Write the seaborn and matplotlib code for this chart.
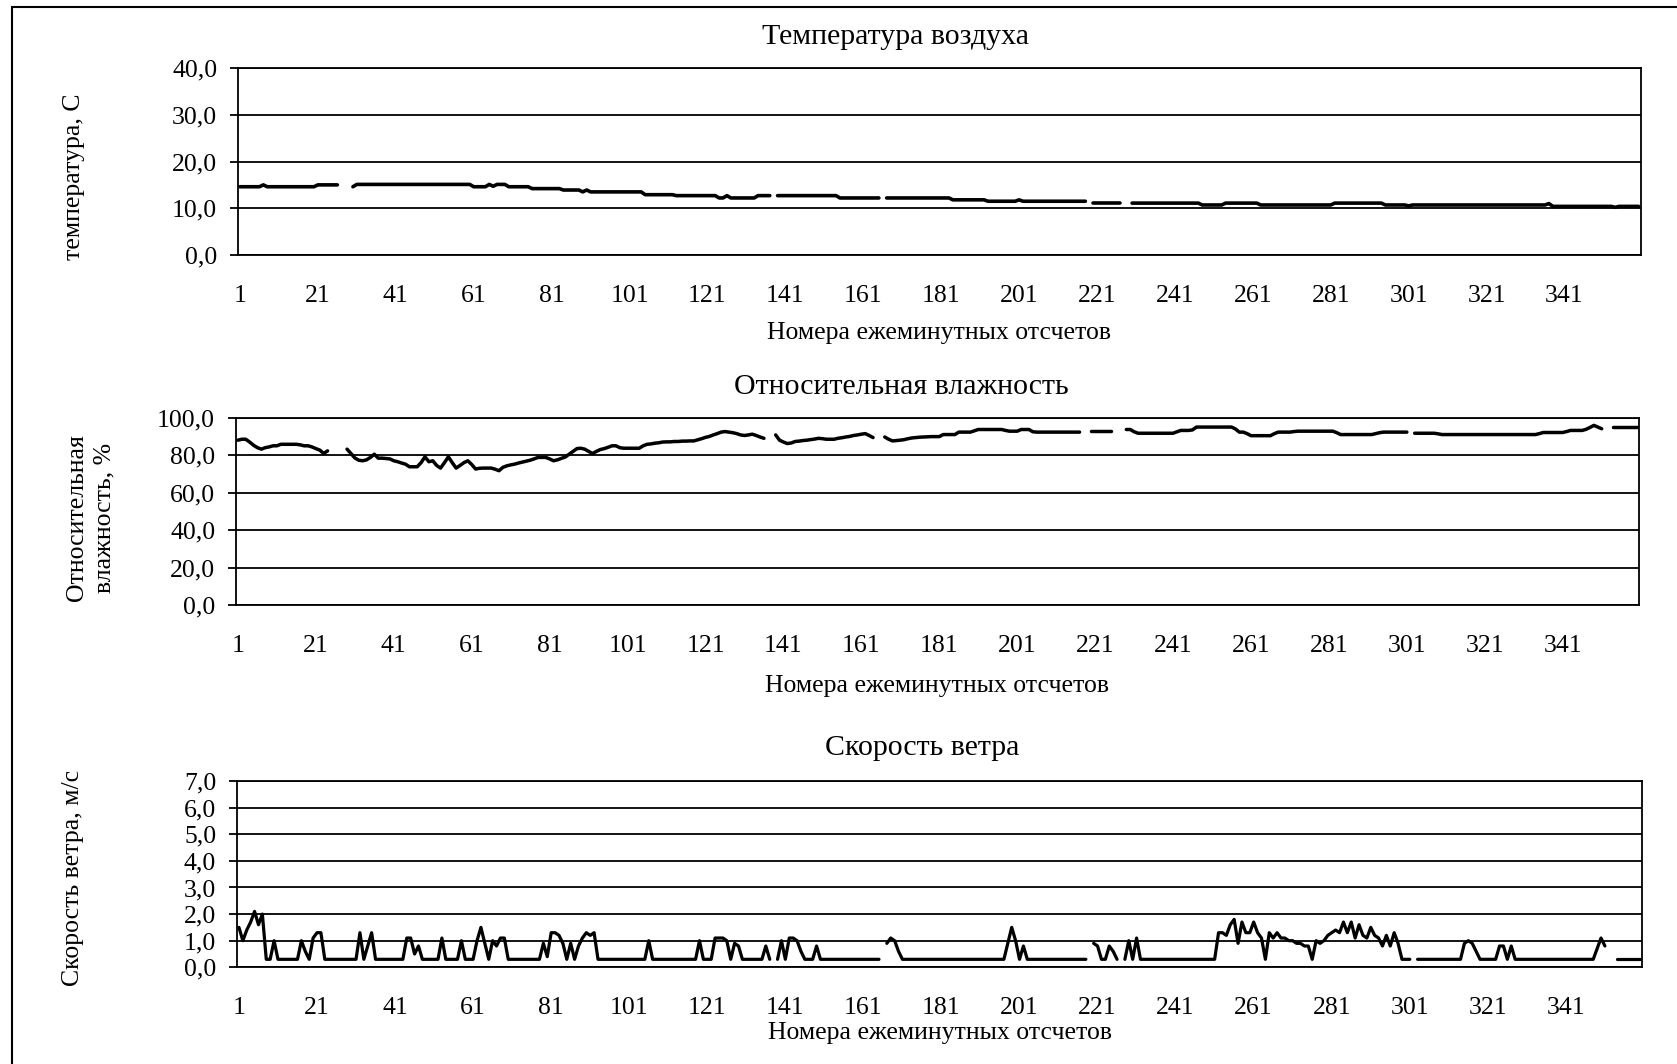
import numpy as np
import pandas as pd
import matplotlib
matplotlib.use("Agg")
import matplotlib.pyplot as plt
import seaborn as sns
from matplotlib.patches import Rectangle

nan = np.nan

# ---------------- data ----------------
minutes = list(range(1, 361))
x_ticks = [1, 21, 41, 61, 81, 101, 121, 141, 161, 181, 201, 221, 241, 261, 281, 301, 321, 341]
x_tick_labels = ["1", "21", "41", "61", "81", "101", "121", "141", "161", "181", "201",
                 "221", "241", "261", "281", "301", "321", "341"]

temp_yticks = [0, 10, 20, 30, 40]
temp_ytick_labels = ["0,0", "10,0", "20,0", "30,0", "40,0"]
hum_yticks = [0, 20, 40, 60, 80, 100]
hum_ytick_labels = ["0,0", "20,0", "40,0", "60,0", "80,0", "100,0"]
wind_yticks = [0, 1, 2, 3, 4, 5, 6, 7]
wind_ytick_labels = ["0,0", "1,0", "2,0", "3,0", "4,0", "5,0", "6,0", "7,0"]

titles = ["Температура воздуха", "Относительная влажность", "Скорость ветра"]
x_label = "Номера ежеминутных отсчетов"
y_labels = ["температура, С", "Относительная\nвлажность, %", "Скорость ветра, м/с"]

temperature = [
    14.6, 14.6, 14.6, 14.6, 14.6, 14.6, 15.0, 14.6, 14.6, 14.6, 14.6, 14.6, 14.6, 14.6, 14.6, 14.6, 14.6, 14.6, 14.6, 14.6,
    15.0, 15.0, 15.0, 15.0, 15.0, 15.0, nan, nan, nan, 14.6, 15.1, 15.1, 15.1, 15.1, 15.1, 15.1, 15.1, 15.1, 15.1, 15.1,
    15.1, 15.1, 15.1, 15.1, 15.1, 15.1, 15.1, 15.1, 15.1, 15.1, 15.1, 15.1, 15.1, 15.1, 15.1, 15.1, 15.1, 15.1, 15.1, 15.1,
    14.6, 14.6, 14.6, 14.6, 15.1, 14.7, 15.1, 15.1, 15.1, 14.6, 14.6, 14.6, 14.6, 14.6, 14.6, 14.2, 14.2, 14.2, 14.2, 14.2,
    14.2, 14.2, 14.2, 13.9, 13.9, 13.9, 13.9, 13.9, 13.5, 13.9, 13.5, 13.5, 13.5, 13.5, 13.5, 13.5, 13.5, 13.5, 13.5, 13.5,
    13.5, 13.5, 13.5, 13.5, 12.9, 12.9, 12.9, 12.9, 12.9, 12.9, 12.9, 12.9, 12.7, 12.7, 12.7, 12.7, 12.7, 12.7, 12.7, 12.7,
    12.7, 12.7, 12.7, 12.2, 12.2, 12.7, 12.2, 12.2, 12.2, 12.2, 12.2, 12.2, 12.2, 12.7, 12.7, 12.7, 12.7, nan, 12.7, 12.7,
    12.7, 12.7, 12.7, 12.7, 12.7, 12.7, 12.7, 12.7, 12.7, 12.7, 12.7, 12.7, 12.7, 12.7, 12.2, 12.2, 12.2, 12.2, 12.2, 12.2,
    12.2, 12.2, 12.2, 12.2, 12.2, nan, 12.2, 12.2, 12.2, 12.2, 12.2, 12.2, 12.2, 12.2, 12.2, 12.2, 12.2, 12.2, 12.2, 12.2,
    12.2, 12.2, 12.2, 11.8, 11.8, 11.8, 11.8, 11.8, 11.8, 11.8, 11.8, 11.8, 11.5, 11.5, 11.5, 11.5, 11.5, 11.5, 11.5, 11.5,
    11.8, 11.5, 11.5, 11.5, 11.5, 11.5, 11.5, 11.5, 11.5, 11.5, 11.5, 11.5, 11.5, 11.5, 11.5, 11.5, 11.5, 11.5, nan, 11.1,
    11.1, 11.1, 11.1, 11.1, 11.1, 11.1, 11.1, nan, nan, 11.1, 11.1, 11.1, 11.1, 11.1, 11.1, 11.1, 11.1, 11.1, 11.1, 11.1,
    11.1, 11.1, 11.1, 11.1, 11.1, 11.1, 11.1, 10.7, 10.7, 10.7, 10.7, 10.7, 10.7, 11.1, 11.1, 11.1, 11.1, 11.1, 11.1, 11.1,
    11.1, 11.1, 10.7, 10.7, 10.7, 10.7, 10.7, 10.7, 10.7, 10.7, 10.7, 10.7, 10.7, 10.7, 10.7, 10.7, 10.7, 10.7, 10.7, 10.7,
    10.7, 11.1, 11.1, 11.1, 11.1, 11.1, 11.1, 11.1, 11.1, 11.1, 11.1, 11.1, 11.1, 11.1, 10.7, 10.7, 10.7, 10.7, 10.7, 10.7,
    10.5, 10.7, 10.7, 10.7, 10.7, 10.7, 10.7, 10.7, 10.7, 10.7, 10.7, 10.7, 10.7, 10.7, 10.7, 10.7, 10.7, 10.7, 10.7, 10.7,
    10.7, 10.7, 10.7, 10.7, 10.7, 10.7, 10.7, 10.7, 10.7, 10.7, 10.7, 10.7, 10.7, 10.7, 10.7, 10.7, 11.0, 10.4, 10.4, 10.4,
    10.4, 10.4, 10.4, 10.4, 10.4, 10.4, 10.4, 10.4, 10.4, 10.4, 10.4, 10.4, 10.4, 10.2, 10.4, 10.4, 10.4, 10.4, 10.4, 10.4,
]

humidity = [
    88.0, 88.5, 88.5, 87.0, 85.3, 84.0, 83.2, 84.0, 84.4, 85.0, 85.0, 85.8, 85.8, 85.8, 85.8, 85.8, 85.5, 85.0, 85.0, 84.4,
    83.5, 82.7, 80.9, 82.3, nan, nan, nan, nan, 83.2, 80.9, 78.5, 77.3, 77.0, 77.5, 78.8, 80.5, 78.4, 78.4, 78.2, 78.0,
    77.0, 76.5, 75.8, 75.2, 73.8, 73.8, 73.8, 76.0, 79.1, 76.5, 77.0, 74.5, 73.1, 76.0, 79.1, 76.0, 73.1, 74.5, 76.0, 77.0,
    75.0, 72.6, 73.0, 73.1, 73.1, 73.1, 72.5, 71.7, 73.5, 74.3, 74.8, 75.2, 75.8, 76.3, 76.8, 77.3, 78.0, 78.8, 78.8, 78.8,
    78.0, 77.0, 77.5, 78.3, 79.0, 80.5, 82.0, 83.5, 83.7, 83.2, 82.0, 80.9, 82.0, 83.0, 83.5, 84.2, 85.0, 85.0, 84.0, 83.7,
    83.7, 83.7, 83.7, 83.7, 85.0, 85.8, 86.0, 86.4, 86.6, 87.0, 87.1, 87.1, 87.3, 87.3, 87.5, 87.5, 87.6, 87.6, 88.2, 88.8,
    89.5, 90.0, 90.8, 91.5, 92.3, 92.6, 92.3, 92.0, 91.5, 90.8, 90.5, 90.8, 91.2, 90.5, 89.7, 89.0, nan, nan, 90.8, 88.0,
    87.0, 86.2, 86.5, 87.3, 87.5, 87.8, 88.0, 88.3, 88.6, 89.0, 88.8, 88.5, 88.5, 88.5, 89.0, 89.3, 89.7, 90.0, 90.5, 90.8,
    91.2, 91.5, 90.5, 89.4, nan, nan, 89.7, 88.5, 87.6, 87.8, 88.0, 88.3, 88.8, 89.2, 89.4, 89.6, 89.7, 89.8, 89.9, 89.9,
    89.9, 91.0, 91.0, 91.0, 91.0, 92.3, 92.3, 92.3, 92.3, 93.0, 93.7, 93.7, 93.7, 93.7, 93.7, 93.7, 93.7, 93.2, 92.8, 92.8,
    92.8, 93.7, 93.7, 93.7, 92.5, 92.3, 92.3, 92.3, 92.3, 92.3, 92.3, 92.3, 92.3, 92.3, 92.3, 92.3, 92.3, nan, nan, 92.8,
    92.8, 92.8, 92.8, 92.8, 92.8, nan, nan, nan, 93.7, 93.7, 92.5, 91.7, 91.7, 91.7, 91.7, 91.7, 91.7, 91.7, 91.7, 91.7,
    91.7, 92.5, 93.2, 93.2, 93.2, 93.5, 95.0, 95.0, 95.0, 95.0, 95.0, 95.0, 95.0, 95.0, 95.0, 95.0, 94.0, 92.3, 92.3, 91.5,
    90.4, 90.4, 90.4, 90.4, 90.4, 90.4, 91.5, 92.3, 92.3, 92.3, 92.3, 92.6, 92.8, 92.8, 92.8, 92.8, 92.8, 92.8, 92.8, 92.8,
    92.8, 92.8, 92.0, 91.0, 91.0, 91.0, 91.0, 91.0, 91.0, 91.0, 91.0, 91.0, 91.5, 92.0, 92.3, 92.3, 92.3, 92.3, 92.3, 92.3,
    92.3, nan, 91.7, 91.7, 91.7, 91.7, 91.7, 91.7, 91.4, 91.0, 91.0, 91.0, 91.0, 91.0, 91.0, 91.0, 91.0, 91.0, 91.0, 91.0,
    91.0, 91.0, 91.0, 91.0, 91.0, 91.0, 91.0, 91.0, 91.0, 91.0, 91.0, 91.0, 91.0, 91.0, 91.5, 92.1, 92.1, 92.1, 92.1, 92.1,
    92.1, 92.6, 93.2, 93.2, 93.2, 93.2, 93.8, 94.8, 95.9, 95.0, 94.1, nan, nan, 95.3, 95.3, 95.3, 95.3, 95.3, 95.3, 95.3,
]

wind = [
    1.5, 1.0, 1.4, 1.7, 2.1, 1.6, 2.0, 0.3, 0.3, 1.0, 0.3, 0.3, 0.3, 0.3, 0.3, 0.3, 1.0, 0.6, 0.3, 1.1,
    1.3, 1.3, 0.3, 0.3, 0.3, 0.3, 0.3, 0.3, 0.3, 0.3, 0.3, 1.3, 0.3, 0.8, 1.3, 0.3, 0.3, 0.3, 0.3, 0.3,
    0.3, 0.3, 0.3, 1.1, 1.1, 0.5, 0.8, 0.3, 0.3, 0.3, 0.3, 0.3, 1.1, 0.3, 0.3, 0.3, 0.3, 1.0, 0.3, 0.3,
    0.3, 1.0, 1.5, 0.9, 0.3, 1.0, 0.8, 1.1, 1.1, 0.3, 0.3, 0.3, 0.3, 0.3, 0.3, 0.3, 0.3, 0.3, 0.9, 0.4,
    1.3, 1.3, 1.2, 0.9, 0.3, 0.9, 0.3, 0.8, 1.1, 1.3, 1.2, 1.3, 0.3, 0.3, 0.3, 0.3, 0.3, 0.3, 0.3, 0.3,
    0.3, 0.3, 0.3, 0.3, 0.3, 1.0, 0.3, 0.3, 0.3, 0.3, 0.3, 0.3, 0.3, 0.3, 0.3, 0.3, 0.3, 0.3, 1.0, 0.3,
    0.3, 0.3, 1.1, 1.1, 1.1, 1.0, 0.3, 0.9, 0.8, 0.3, 0.3, 0.3, 0.3, 0.3, 0.3, 0.8, 0.3, nan, 0.3, 1.0,
    0.3, 1.1, 1.1, 1.0, 0.6, 0.3, 0.3, 0.3, 0.8, 0.3, 0.3, 0.3, 0.3, 0.3, 0.3, 0.3, 0.3, 0.3, 0.3, 0.3,
    0.3, 0.3, 0.3, 0.3, 0.3, nan, 0.9, 1.1, 1.0, 0.6, 0.3, 0.3, 0.3, 0.3, 0.3, 0.3, 0.3, 0.3, 0.3, 0.3,
    0.3, 0.3, 0.3, 0.3, 0.3, 0.3, 0.3, 0.3, 0.3, 0.3, 0.3, 0.3, 0.3, 0.3, 0.3, 0.3, 0.3, 0.9, 1.5, 1.0,
    0.3, 0.8, 0.3, 0.3, 0.3, 0.3, 0.3, 0.3, 0.3, 0.3, 0.3, 0.3, 0.3, 0.3, 0.3, 0.3, 0.3, 0.3, nan, 0.9,
    0.8, 0.3, 0.3, 0.8, 0.6, 0.3, nan, 0.3, 1.0, 0.3, 1.1, 0.3, 0.3, 0.3, 0.3, 0.3, 0.3, 0.3, 0.3, 0.3,
    0.3, 0.3, 0.3, 0.3, 0.3, 0.3, 0.3, 0.3, 0.3, 0.3, 0.3, 1.3, 1.3, 1.2, 1.6, 1.8, 0.9, 1.7, 1.3, 1.3,
    1.7, 1.3, 1.1, 0.3, 1.3, 1.1, 1.3, 1.1, 1.1, 1.0, 1.0, 0.9, 0.9, 0.8, 0.8, 0.3, 1.0, 0.9, 1.0, 1.2,
    1.3, 1.4, 1.3, 1.7, 1.3, 1.7, 1.1, 1.6, 1.2, 1.1, 1.5, 1.2, 1.1, 0.8, 1.2, 0.8, 1.3, 0.9, 0.3, 0.3,
    0.3, nan, 0.3, 0.3, 0.3, 0.3, 0.3, 0.3, 0.3, 0.3, 0.3, 0.3, 0.3, 0.3, 0.9, 1.0, 0.9, 0.6, 0.3, 0.3,
    0.3, 0.3, 0.3, 0.8, 0.8, 0.3, 0.8, 0.3, 0.3, 0.3, 0.3, 0.3, 0.3, 0.3, 0.3, 0.3, 0.3, 0.3, 0.3, 0.3,
    0.3, 0.3, 0.3, 0.3, 0.3, 0.3, 0.3, 0.3, 0.7, 1.1, 0.8, nan, nan, 0.3, 0.3, 0.3, 0.3, 0.3, 0.3, 0.3,
]

# ---------------- style ----------------
sns.set_style("white")
plt.rcParams["font.family"] = ["Liberation Serif", "DejaVu Serif"]
plt.rcParams["text.color"] = "black"
plt.rcParams["axes.labelcolor"] = "black"
plt.rcParams["xtick.color"] = "black"
plt.rcParams["ytick.color"] = "black"

W, H = 1677, 1064
fig = plt.figure(figsize=(W / 100, H / 100), dpi=100)
fig.patch.set_facecolor("white")

# outer frame (left & top visible, rest outside the image)
fig.patches.append(Rectangle((12 / W, -0.05), 1.2, 1 - 7 / H + 0.05, transform=fig.transFigure,
                             fill=False, edgecolor="black", linewidth=1.5, zorder=0))


def box(left, top, right, bottom):
    return [left / W, 1 - bottom / H, (right - left) / W, (bottom - top) / H]


panels = [
    dict(rect=box(238, 68, 1640.5, 255), values=temperature, ylim=(0, 40), yticks=temp_yticks,
         yticklabels=temp_ytick_labels, title_xy=(0.469, 1.164), xlabel_y=-0.415,
         ylabel_xy=(-0.117, 0.42), lw=2.6),
    dict(rect=box(236, 417.7, 1638.7, 605), values=humidity, ylim=(0, 100), yticks=hum_yticks,
         yticklabels=hum_ytick_labels, title_xy=(0.4745, 1.163), xlabel_y=-0.43,
         ylabel_xy=(-0.1035, 0.466), lw=2.5),
    dict(rect=box(237, 781, 1642, 967.3), values=wind, ylim=(0, 7), yticks=wind_yticks,
         yticklabels=wind_ytick_labels, title_xy=(0.4875, 1.179), xlabel_y=-0.354,
         ylabel_xy=(-0.1165, 0.478), lw=2.3),
]

for k, p in enumerate(panels):
    ax = fig.add_axes(p["rect"])
    v = np.asarray(p["values"], dtype=float)
    df = pd.DataFrame({"minute": minutes, "value": v, "seg": np.cumsum(np.isnan(v))}).dropna()
    sns.lineplot(data=df, x="minute", y="value", units="seg", estimator=None,
                 color="black", linewidth=p["lw"], ax=ax, legend=False)

    ax.set_xlim(0.5, 360.5)
    ax.set_ylim(*p["ylim"])
    ax.set_yticks(p["yticks"])
    ax.set_yticklabels(p["yticklabels"], fontsize=18.5)
    ax.set_xticks(x_ticks)
    ax.set_xticklabels(x_tick_labels, fontsize=18.5)
    ax.tick_params(axis="x", length=0, pad=21.5)
    ax.tick_params(axis="y", length=6, width=1.3, pad=9, direction="out", left=True)
    ax.set_axisbelow(True)
    ax.grid(False)
    ax.yaxis.grid(True, color="black", linewidth=1.3)
    for s in ax.spines.values():
        s.set_visible(True)
        s.set_color("black")
        s.set_linewidth(1.3)

    ax.set_title(titles[k], fontsize=21.5, x=p["title_xy"][0], y=p["title_xy"][1],
                 pad=0, va="center")
    ax.set_xlabel(x_label, fontsize=18.5, va="center")
    ax.xaxis.set_label_coords(0.5, p["xlabel_y"])
    ax.set_ylabel(y_labels[k], fontsize=18.5, va="center", ha="center",
                  multialignment="center", linespacing=1.3)
    ax.yaxis.set_label_coords(*p["ylabel_xy"])

fig.savefig("out.png", dpi=100, facecolor="white")
